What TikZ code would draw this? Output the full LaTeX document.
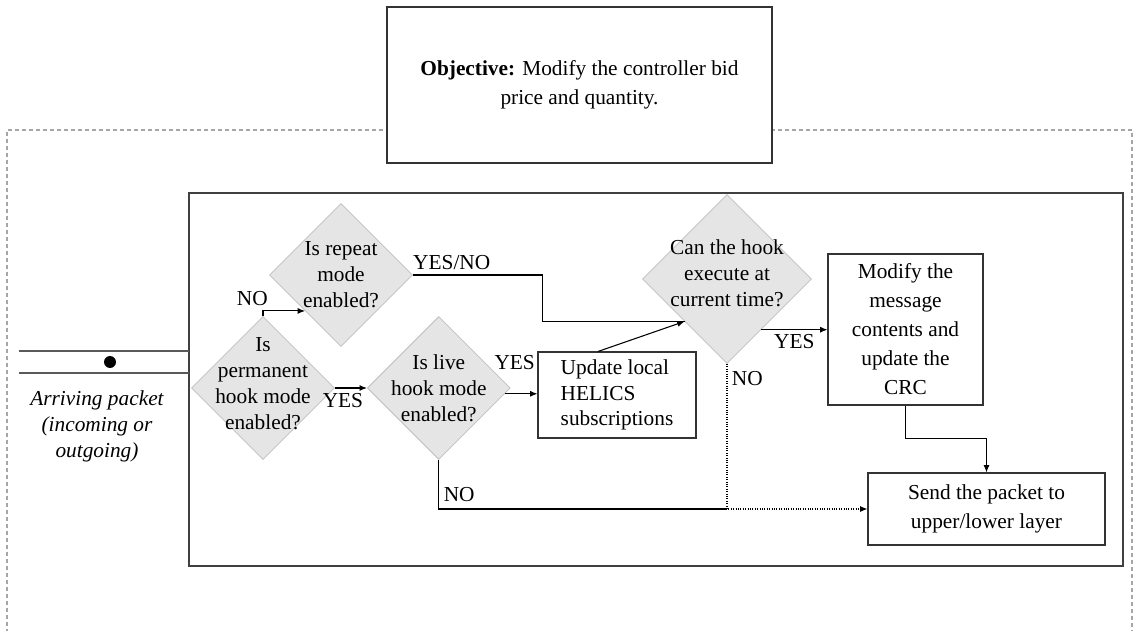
\documentclass[tikz,border=0pt]{standalone}
\usepackage{fontspec}
\setmainfont{Liberation Serif}
\usetikzlibrary{positioning,shapes.geometric,arrows.meta}
\tikzstyle{decision}=[shape=diamond, fill=gray!20, draw=gray!50, line width=0.6pt,
        inner sep=0pt, minimum width=107.25pt, minimum height=107.25pt]
\tikzstyle{dtext}=[align=center, inner sep=0pt, font=\fontsize{16}{19.5}\selectfont]
\tikzstyle{process}=[draw=black!80, line width=0.8pt, fill=white,
        font=\fontsize{16}{21.75}\selectfont]

\begin{document}
\begin{tikzpicture}[x=0.75pt, y=-0.75pt, >={Latex[length=5.5pt, width=4.5pt]}, line width=0.8pt,
        font=\fontsize{16}{19.5}\selectfont]
        \fill[white] (0,0) rectangle (1136,631);
        \useasboundingbox (0,0) rectangle (1136,631);

        % outer dashed frame and inner frame
        \draw[gray!70, dash pattern=on 3pt off 2.25pt] (7,640) -- (7,130) -- (1132,130) -- (1132,640);
        \draw[black!75, line width=1pt] (189,193) rectangle (1123,566);

        \node[process, align=center, minimum width=288.75pt, minimum height=117pt] (0) at (579.5,85)
            {\textbf{Objective:} Modify the controller bid\\ price and quantity.};

        % arriving packet
        \draw[black!65, line width=1pt] (19,351) -- (189,351);
        \draw[black!65, line width=1pt] (19,373) -- (189,373);
        \node[circle, fill, inner sep=0pt, minimum size=9pt] (9) at (110,362) {};
        \node[align=center, font=\fontsize{16}{19.5}\selectfont\itshape] (10) at (97,426)
            {Arriving packet\\ (incoming or\\ outgoing)};

        \node[decision, label={[dtext, yshift=3pt]center:Is\\ permanent\\ hook mode\\ enabled?}] (1) at (263,388) {};

        \node[decision, label={[dtext]center:Is repeat\\ mode\\ enabled?}] (2) at (341,275) {};

        \node[decision, right=24pt of 1, label={[dtext]center:Is live\\ hook mode\\ enabled?}] (3) {};

        \node[decision, minimum width=126.75pt, minimum height=126.75pt,
            label={[dtext, yshift=4pt]center:Can the hook\\ execute at\\ current time?}] (4) at (727,279) {};

        \node[process, align=left, minimum width=118.5pt, minimum height=64.5pt, font=\fontsize{16}{19}\selectfont] (5) at (617,395)
            {Update local\\ HELICS\\ subscriptions};

        \node[process, align=center, minimum width=116.25pt, minimum height=113.25pt] (6) at (905.5,329.5)
            {Modify the\\ message\\ contents and\\ update the\\ CRC};

        \node[process, align=center, minimum width=177.75pt, minimum height=54pt] (7) at (986.5,509)
            {Send the packet to\\ upper/lower layer};

        \draw[->] (1.north) |- (2.south west) node[pos=0.5, above, xshift=-8pt] {NO};
        \draw[->] (1.east) to node[pos=0.25, below] {YES} (3.west);
        \draw[->] (3.-5) -- (3.-5 -| 5.west) node[pos=0.3, above=14pt] {YES};
        \draw[->] ([xshift=-14.25pt]5.north) to (4.south west);
        \draw (2.east) -- ++(129.5,0) node[pos=0.3, above] {YES/NO} |- (4.south west);
        \draw[->] (4.-56) -- (4.-56 -| 6.west) node[midway, below] {YES};
        \draw[->, densely dotted] (4.south) |- (7.west) node[pos=0.05, right] {NO};
        \draw (3.south) |- (4.south |- 7.west) node[pos=0.35, right] {NO};
        \draw[->] (6.south) -- ++(0,33) -| (7.north);

    \end{tikzpicture}
\end{document}
